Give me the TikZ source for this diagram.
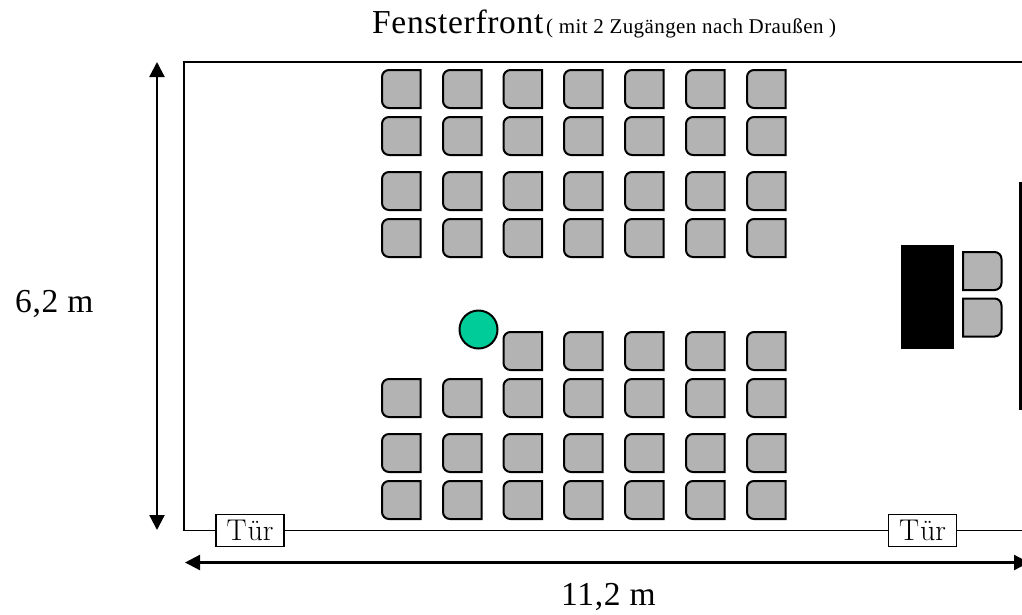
\documentclass[tikz,border=0pt]{standalone}
\usepackage{fontspec}
\newfontfamily\gara[LetterSpace=2]{Liberation Serif}
\usetikzlibrary{arrows.meta}
\definecolor{seatgray}{HTML}{B3B3B3}
\definecolor{mint}{HTML}{00CC99}
\tikzset{
  seatline/.style={draw=black,fill=seatgray,line width=2pt},
  wall/.style={draw=black,line width=1.9pt},
  dimline/.style={draw=black,line width=2.2pt,{Triangle[length=15pt,width=15pt]}-{Triangle[length=15pt,width=15pt]}},
  door/.style={draw=black,fill=white,line width=1.9pt,minimum width=68pt,minimum height=32pt,inner sep=0pt,font=\fontsize{30}{30}\selectfont},
  lbl/.style={inner sep=0pt,font=\gara\fontsize{33.5}{34}\selectfont,anchor=base west},
}
\newcommand{\seatL}[2]{\path[seatline] (#1+38.5,#2) [rounded corners=7pt] -- (#1,#2) -- (#1,#2+38) [sharp corners] -- (#1+38.5,#2+38) -- cycle;}
\newcommand{\seatR}[2]{\path[seatline] (#1,#2) [rounded corners=7pt] -- (#1+38.5,#2) -- (#1+38.5,#2+38) [sharp corners] -- (#1,#2+38) -- cycle;}
\begin{document}
\begin{tikzpicture}[x=1pt,y=-1pt]
\useasboundingbox (0,0) rectangle (1022,614);
% doors
\node[door] (d1) at (250,530.5) {T\kern1pt ür};
\node[door] (d2) at (922.5,530.5) {T\kern1pt ür};
% corners / free ends
\coordinate (tl) at (184,62);
\coordinate (tr) at (1022,62);
\coordinate (bl) at (184,530.5);
\coordinate (br) at (1022,530.5);
\draw[wall,line cap=rect] (tr) -- (tl) -- (bl) -- (d1.west);
\draw[wall] (d1.east) -- (d2.west);
\draw[wall] (d2.east) -- (br);
% stage wall
\coordinate (s1) at (1020.5,182);
\coordinate (s2) at (1020.5,410);
\draw[line width=3pt] (s1) -- (s2);
% dimension arrows
\coordinate (va) at (157,62);
\coordinate (vb) at (157,530);
\coordinate (ha) at (185,562.5);
\coordinate (hb) at (1029,562.5);
\draw[dimline] (va) -- (vb);
\draw[dimline] (ha) -- (hb);
% seats
\foreach \yy in {70,117,172,219,379,434,481}
  \foreach \xx in {382,443,503.5,564,625,686,747}
    {\seatL{\xx}{\yy}}
\foreach \xx in {503.5,564,625,686,747}
  {\seatL{\xx}{332}}
\seatR{963}{252}
\seatR{963}{298.5}
% table
\fill[black] (901,245) rectangle (953.5,349);
% person
\node[circle,draw=black,fill=mint,line width=2pt,minimum size=38pt,inner sep=0pt] (p) at (478.5,329.5) {};
% labels
\node[lbl] (t1) at (372,33) {Fensterfront};
\node[lbl,font=\gara\fontsize{21}{21}\selectfont] (t2) at (546,33) {( mit 2 Zugängen nach Draußen )};
\node[lbl] (w) at (15,312) {6,2 m};
\node[lbl] (l) at (561,605) {11,2 m};
\end{tikzpicture}
\end{document}
